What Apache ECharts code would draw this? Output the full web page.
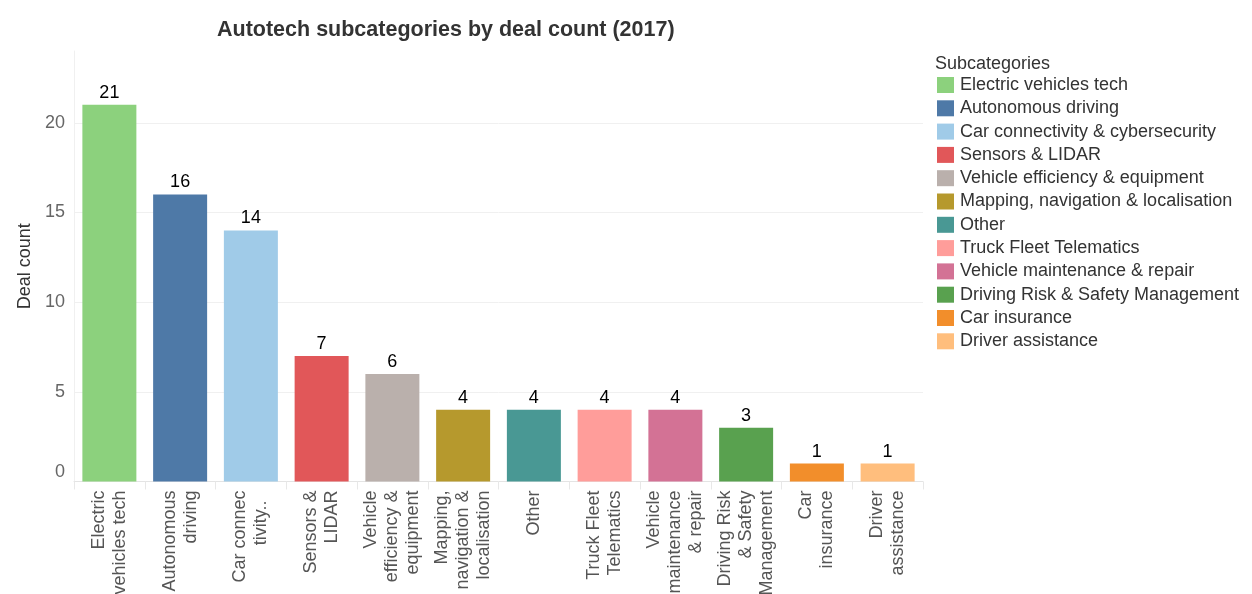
<!DOCTYPE html>
<html>
<head>
<meta charset="utf-8">
<title>Autotech subcategories by deal count (2017)</title>
<script src="https://cdn.jsdelivr.net/npm/echarts@6/dist/echarts.min.js"></script>
<style>
	html, body { margin: 0; padding: 0; background: #fff; }
	#container { width: 1252px; height: 594px; }
</style>
</head>
<body>
<div id="container"></div>
<script>
// data
var subcategories = ['Electric vehicles tech', 'Autonomous driving', 'Car connectivity & cybersecurity',
	'Sensors & LIDAR', 'Vehicle efficiency & equipment', 'Mapping, navigation & localisation', 'Other',
	'Truck Fleet Telematics', 'Vehicle maintenance & repair', 'Driving Risk & Safety Management',
	'Car insurance', 'Driver assistance'];
var axisLabels = ['Electric\nvehicles tech', 'Autonomous\ndriving', 'Car connec\ntivity..  ', 'Sensors &\nLIDAR',
	'Vehicle\nefficiency &\nequipment', 'Mapping,\nnavigation &\nlocalisation', 'Other', 'Truck Fleet\nTelematics',
	'Vehicle\nmaintenance\n& repair', 'Driving Risk\n& Safety\nManagement', 'Car\ninsurance', 'Driver\nassistance'];
var dealCounts = [21, 16, 14, 7, 6, 4, 4, 4, 4, 3, 1, 1];
var colors = ['#8CD17D', '#4E79A7', '#A0CBE8', '#E15759', '#BAB0AC', '#B6992D', '#499894',
	'#FF9D9A', '#D37295', '#59A14F', '#F28E2B', '#FFBE7D'];
var yTicks = [0, 5, 10, 15, 20];

var FONT = '"Liberation Sans", Arial, sans-serif';

function main() {
	var myChart = echarts.init(document.getElementById('container'));
	// one series per subcategory so the legend lists every colour
	var series = subcategories.map(function (name, i) {
		var data = dealCounts.map(function (v, j) { return j === i ? v : '-'; });
		return {
			name: name,
			type: 'bar',
			stack: 'total',
			barWidth: 54,
			data: data,
			itemStyle: { color: colors[i] },
			label: {
				show: true,
				position: 'top',
				distance: 3,
				color: '#000',
				fontSize: 18,
				fontFamily: FONT
			}
		};
	});

	var option = {
		animation: false,
		color: colors,
		title: [{
			text: 'Autotech subcategories by deal count (2017)',
			left: 217,
			top: 19,
			padding: 0,
			textStyle: { fontSize: 21.5, fontWeight: 'bold', color: '#333', fontFamily: FONT }
		}, {
			text: 'Subcategories',
			left: 935,
			top: 55,
			padding: 0,
			textStyle: { fontSize: 18, fontWeight: 'normal', color: '#333', fontFamily: FONT }
		}],
		legend: {
			orient: 'vertical',
			left: 937,
			top: 76,
			padding: 0,
			itemWidth: 17,
			itemHeight: 16,
			itemGap: 5.3,
			icon: 'rect',
			selectedMode: false,
			data: subcategories,
			textStyle: { fontSize: 18, color: '#333', fontFamily: FONT, lineHeight: 16, padding: [0, 0, 0, 1] }
		},
		grid: {
			left: 74,
			right: 329,
			top: 51,
			bottom: 112.5,
			containLabel: false,
			outerBoundsMode: 'none'
		},
		xAxis: {
			type: 'category',
			data: axisLabels,
			axisLine: { lineStyle: { color: '#e4e4e4' } },
			axisTick: { show: true, length: 8, lineStyle: { color: '#e8e8e8' } },
			axisLabel: {
				interval: 0,
				rotate: 90,
				margin: 9,
				fontSize: 18,
				lineHeight: 21,
				color: '#555',
				fontFamily: FONT
			}
		},
		yAxis: {
			type: 'value',
			name: 'Deal count',
			nameLocation: 'middle',
			nameRotate: 90,
			nameGap: 35,
			nameTextStyle: { fontSize: 18, color: '#333', fontFamily: FONT },
			min: yTicks[0],
			max: 24,
			interval: yTicks[1] - yTicks[0],
			axisLine: { show: true, lineStyle: { color: '#f0f0f0' } },
			axisTick: { show: false },
			splitLine: { show: true, showMaxLine: false, lineStyle: { color: '#f0f0f0' } },
			axisLabel: {
				showMaxLabel: false,
				margin: 9,
				fontSize: 18,
				color: '#666',
				fontFamily: FONT,
				formatter: function (v) { return v === 0 ? '{z|0}' : String(v); },
				rich: { z: { fontSize: 18, color: '#666', fontFamily: FONT, padding: [0, 0, 18, 0] } }
			}
		},
		series: series
	};
	myChart.setOption(option, true);
}
main();
</script>
</body>
</html>
